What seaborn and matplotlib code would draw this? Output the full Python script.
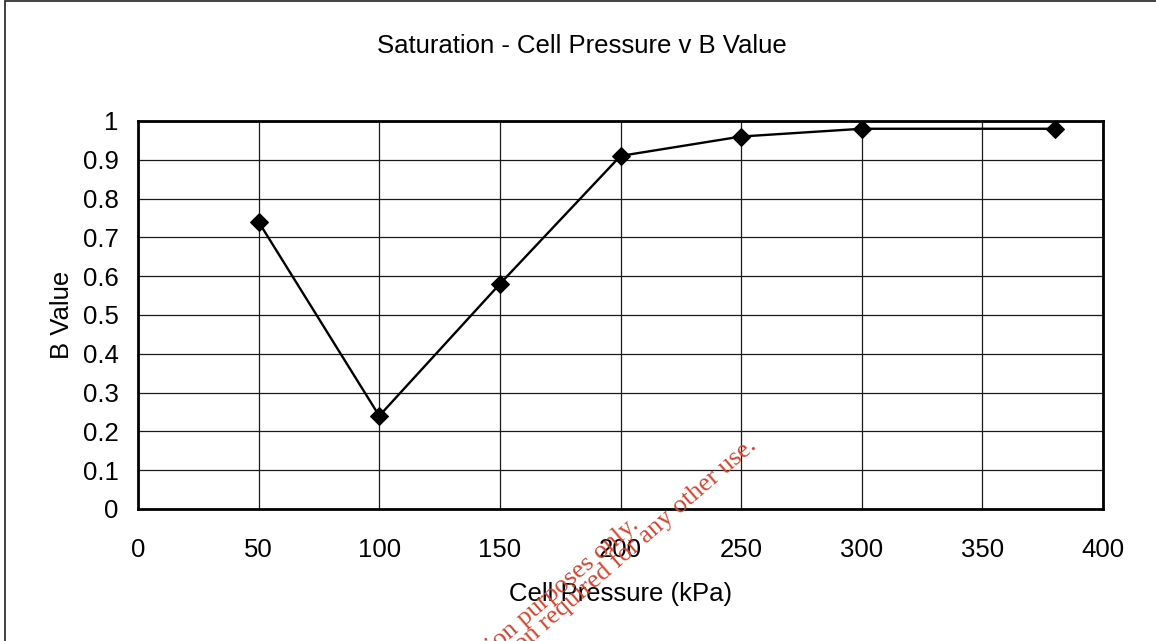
import matplotlib
matplotlib.use("Agg")
import matplotlib.pyplot as plt
import seaborn as sns
import pandas as pd
from matplotlib.lines import Line2D

# Measured data
cell_pressure = [50, 100, 150, 200, 250, 300, 380]
b_value = [0.74, 0.24, 0.58, 0.91, 0.96, 0.98, 0.98]

x_ticks = [0, 50, 100, 150, 200, 250, 300, 350, 400]
y_ticks = [0, 0.1, 0.2, 0.3, 0.4, 0.5, 0.6, 0.7, 0.8, 0.9, 1.0]
y_tick_labels = ["0", "0.1", "0.2", "0.3", "0.4", "0.5", "0.6", "0.7", "0.8", "0.9", "1"]

title = "Saturation - Cell Pressure v B Value"
x_label = "Cell Pressure (kPa)"
y_label = "B Value"
note_1 = "For information purposes only."
note_2 = "Permission required for any other use."

sns.set_style("white")
plt.rcParams["font.family"] = ["Liberation Sans", "DejaVu Sans"]
plt.rcParams["text.color"] = "black"
plt.rcParams["axes.labelcolor"] = "black"

df = pd.DataFrame({"pressure": cell_pressure, "b": b_value})

fig = plt.figure(figsize=(11.56, 6.41), dpi=100)
ax = fig.add_axes([138 / 1156, 1 - 509 / 641, (1103 - 138) / 1156, (509 - 121) / 641])

sns.lineplot(data=df, x="pressure", y="b", ax=ax, color="black", linewidth=1.7,
             marker="D", markersize=9, markeredgecolor="black", markerfacecolor="black",
             zorder=5)

ax.set_xlim(0, 400)
ax.set_ylim(0, 1)
ax.set_xticks(x_ticks)
ax.set_xticklabels([str(t) for t in x_ticks])
ax.set_yticks(y_ticks)
ax.set_yticklabels(y_tick_labels)

ax.grid(True, color="#1a1a1a", linewidth=0.9)
ax.set_axisbelow(True)
for sp in ax.spines.values():
    sp.set_visible(True)
    sp.set_color("black")
    sp.set_linewidth(2.0)

ax.tick_params(axis="both", direction="out", length=6, width=0.9, color="#444444",
               labelsize=18.5, labelcolor="black")
ax.tick_params(axis="x", pad=15)
ax.tick_params(axis="y", pad=8)

ax.set_xlabel(x_label, fontsize=18.5, labelpad=14, color="black")
ax.set_ylabel(y_label, fontsize=18.5, labelpad=6, color="black")

fig.text(582 / 1156, 1 - 46 / 641, title, ha="center", va="center", fontsize=18.5,
         color="black")

# Frame around the chart area
fig.add_artist(Line2D([5 / 1156, 5 / 1156], [0, 1 - 1 / 641], transform=fig.transFigure,
                      color="#333333", linewidth=1.3))
fig.add_artist(Line2D([5 / 1156, 1], [1 - 1 / 641, 1 - 1 / 641], transform=fig.transFigure,
                      color="#333333", linewidth=1.3))

# Diagonal notice
for txt, (px, py) in [(note_1, (640, 526)), (note_2, (758, 447))]:
    fig.text(px / 1156, 1 - py / 641, txt, ha="right", va="baseline", rotation=41,
             rotation_mode="anchor", fontsize=19, color="#d4452f",
             family=["Liberation Serif", "DejaVu Serif"], zorder=10)

fig.savefig("out.png", dpi=100)
